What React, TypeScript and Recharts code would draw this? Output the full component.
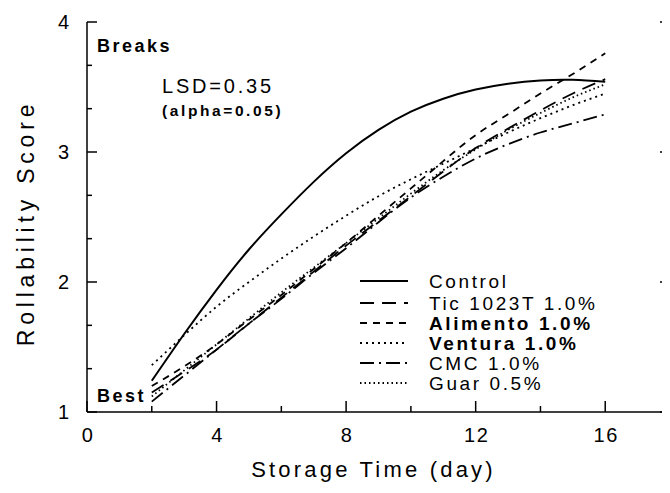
import React from 'react';
import { LineChart, Line, XAxis, YAxis, Legend, Label } from 'recharts';

const days = [2, 3, 4, 5, 6, 7, 8, 9, 10, 11, 12, 13, 14, 15, 16];
const control = [1.24, 1.6, 1.94, 2.25, 2.52, 2.77, 2.99, 3.17, 3.31, 3.41, 3.48, 3.525, 3.55, 3.555, 3.54];
const tic = [1.15, 1.31, 1.48, 1.68, 1.88, 2.08, 2.28, 2.47, 2.66, 2.85, 3.03, 3.18, 3.32, 3.45, 3.56];
const alimento = [1.2, 1.35, 1.52, 1.71, 1.9, 2.1, 2.3, 2.51, 2.72, 2.93, 3.13, 3.29, 3.45, 3.6, 3.76];
const ventura = [1.36, 1.59, 1.81, 2.0, 2.18, 2.35, 2.51, 2.66, 2.79, 2.91, 3.03, 3.15, 3.26, 3.36, 3.45];
const cmc = [1.08, 1.28, 1.48, 1.68, 1.87, 2.07, 2.26, 2.46, 2.65, 2.81, 2.95, 3.06, 3.15, 3.22, 3.29];
const guar = [1.12, 1.32, 1.52, 1.72, 1.92, 2.11, 2.3, 2.49, 2.68, 2.86, 3.02, 3.17, 3.3, 3.42, 3.52];

const xTicks = [0, 2, 4, 6, 8, 10, 12, 14, 16, 18];
const xLabels = [0, 4, 8, 12, 16];
const yTicks = [1, 4 / 3, 5 / 3, 2, 7 / 3, 8 / 3, 3, 10 / 3, 11 / 3, 4];
const yLabels = [1, 2, 3, 4];

const seriesNames = ['Control', 'Tic 1023T 1.0%', 'Alimento 1.0%', 'Ventura 1.0%', 'CMC 1.0%', 'Guar 0.5%'];
const seriesKeys = ['control', 'tic', 'alimento', 'ventura', 'cmc', 'guar'];
const seriesValues = [control, tic, alimento, ventura, cmc, guar];
const seriesDash = ['', '14 8', '7 6', '2 4', '14 5 2 5', '1.5 3'];
const seriesWidth = [2, 1.8, 1.8, 1.8, 1.8, 1.8];
const seriesBold = [false, false, true, true, false, false];

const data = days.map((d, i) => {
  const row: any = { day: d };
  seriesKeys.forEach((k, j) => {
    row[k] = seriesValues[j][i];
  });
  return row;
});

const FONT = '"Liberation Sans", Arial, sans-serif';
const CHART_W = 662;
const AXIS_W = 79;
const PLOT_W = CHART_W - AXIS_W;
const isInt = (v: number) => Math.abs(v - Math.round(v)) < 1e-6;

const BottomTick = (props: any) => {
  const { x, y, payload } = props;
  const v = payload.value;
  const major = v % 4 === 0;
  return (
    <g>
      <line x1={x} x2={x} y1={y} y2={y - (major ? 11 : 6)} stroke="#000" strokeWidth={1.5} />
      {xLabels.includes(v) && (
        <text x={x + 1} y={y + 30} textAnchor="middle" fontFamily={FONT} fontSize={20} letterSpacing={1.5} fill="#000">
          {v}
        </text>
      )}
    </g>
  );
};

const TopTick = (props: any) => {
  const { x, y, payload } = props;
  const major = payload.value % 4 === 0;
  return <line x1={x} x2={x} y1={y} y2={y + (major ? 10 : 6)} stroke="#000" strokeWidth={1.5} />;
};

const LeftTick = (props: any) => {
  const { x, y, payload } = props;
  const v = payload.value;
  const major = isInt(v);
  const len = major ? 10 : 5;
  const lab = yLabels.find((l) => Math.abs(l - v) < 1e-6);
  return (
    <g>
      <line x1={x} x2={x + len} y1={y} y2={y} stroke="#000" strokeWidth={1.5} />
      <line x1={x + PLOT_W} x2={x + PLOT_W - len} y1={y} y2={y} stroke="#000" strokeWidth={1.5} />
      {lab !== undefined && (
        <text x={x - 18} y={y + 7} textAnchor="end" fontFamily={FONT} fontSize={20} fill="#000">
          {lab}
        </text>
      )}
    </g>
  );
};

const LegendContent = () => (
  <svg width={280} height={130} style={{ display: 'block' }}>
    {seriesNames.map((name, i) => {
      const cy = [13, 35, 55, 75, 95, 115][i];
      return (
        <g key={name}>
          <line x1={10} x2={58} y1={cy} y2={cy} stroke="#000" strokeWidth={seriesWidth[i]} strokeDasharray={seriesDash[i] || undefined} />
          <text x={79} y={cy + 7} fontFamily={FONT} fontSize={19} letterSpacing={2.6} fontWeight={seriesBold[i] ? 'bold' : 'normal'} fill="#000">
            {name}
          </text>
        </g>
      );
    })}
  </svg>
);

const YTitle = (props: any) => {
  const vb = props.viewBox || {};
  const cy = vb.y + vb.height / 2;
  return (
    <text x={20} y={cy + 6} transform={`rotate(-90, 20, ${cy + 6})`} textAnchor="middle" dominantBaseline="middle" fontFamily={FONT} fontSize={23} letterSpacing={4.8} fill="#000">
      Rollability Score
    </text>
  );
};

const XTitle = (props: any) => {
  const vb = props.viewBox || {};
  const cx = vb.x + vb.width / 2;
  return (
    <text x={cx - 5} y={469} textAnchor="middle" fontFamily={FONT} fontSize={22} letterSpacing={3.2} fill="#000">
      Storage Time (day)
    </text>
  );
};

export default function App() {
  return (
    <div style={{ position: 'relative', width: CHART_W, height: 477, overflow: 'hidden', background: '#fff' }}>
      <LineChart width={CHART_W} height={477} data={data} margin={{ top: 14, right: 0, bottom: 0, left: 0 }}>
        <XAxis xAxisId="top" orientation="top" type="number" dataKey="day" domain={[0, 18]} ticks={xTicks} interval={0} height={0} tickSize={0} tickMargin={0} tickLine={false} tick={<TopTick />} axisLine={{ stroke: '#000', strokeWidth: 1.5 }} />
        <XAxis xAxisId="x" type="number" dataKey="day" domain={[0, 18]} ticks={xTicks} interval={0} height={73} tickSize={0} tickMargin={0} tickLine={false} tick={<BottomTick />} axisLine={{ stroke: '#000', strokeWidth: 1.5 }}>
          <Label content={<XTitle />} />
        </XAxis>
        <YAxis yAxisId="y" type="number" domain={[1, 4]} ticks={yTicks} interval={0} width={AXIS_W} tickSize={0} tickMargin={0} tickLine={false} tick={<LeftTick />} axisLine={{ stroke: '#000', strokeWidth: 1.5 }}>
          <Label content={<YTitle />} />
        </YAxis>
        <Legend layout="vertical" verticalAlign="middle" align="center" content={<LegendContent />} wrapperStyle={{ position: 'absolute', left: 342, top: 260, width: 280, height: 130 }} />
        {seriesKeys.map((k, i) => (
          <Line key={k} xAxisId="x" yAxisId="y" type="natural" dataKey={k} name={seriesNames[i]} stroke="#000" strokeWidth={seriesWidth[i]} strokeDasharray={seriesDash[i] || undefined} dot={false} activeDot={false} isAnimationActive={false} />
        ))}
      </LineChart>
      <svg width={CHART_W} height={477} style={{ position: 'absolute', left: 0, top: 0, pointerEvents: 'none' }}>
        <text x={89} y={43.5} fontFamily={FONT} fontSize={18} fontWeight="bold" letterSpacing={2.5} fill="#000">Breaks</text>
        <text x={154} y={84.5} fontFamily={FONT} fontSize={20} letterSpacing={2.8} fill="#000">LSD=0.35</text>
        <text x={154} y={108} fontFamily={FONT} fontSize={15.5} fontWeight="bold" letterSpacing={2.6} fill="#000">(alpha=0.05)</text>
        <text x={89} y={394} fontFamily={FONT} fontSize={18} fontWeight="bold" letterSpacing={2.5} fill="#000">Best</text>
      </svg>
    </div>
  );
}
